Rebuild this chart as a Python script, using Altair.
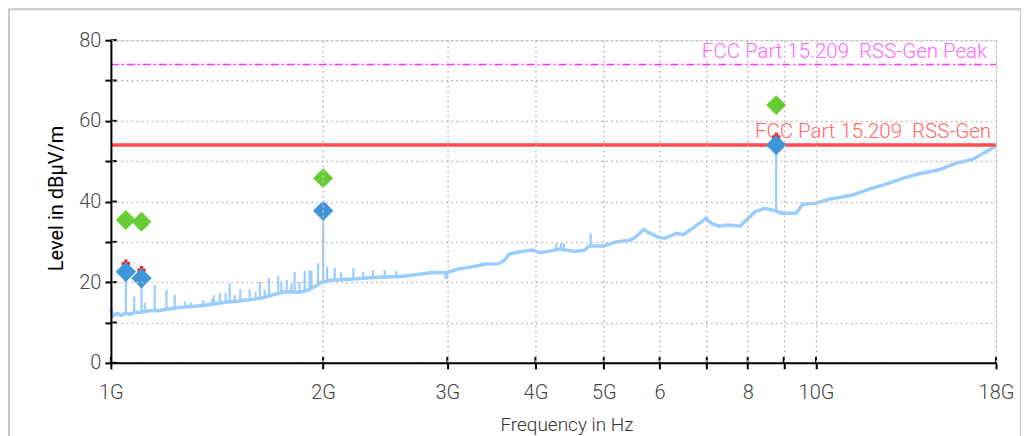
import altair as alt
import pandas as pd

# ---- measured trace (frequency in GHz, level in dBµV/m) ----
trace_freq = [1.0, 1.006, 1.02, 1.035, 1.05, 1.065, 1.08, 1.1, 1.13, 1.17, 1.2, 1.25, 1.3, 1.35,
              1.4, 1.45, 1.5, 1.55, 1.6, 1.65, 1.7, 1.75, 1.8, 1.85, 1.9, 1.95, 1.99, 2.05, 2.2,
              2.4, 2.6, 2.86, 2.985, 2.99, 2.995, 3.1, 3.25, 3.4, 3.55, 3.62, 3.67, 3.79, 3.96,
              4.06, 4.19, 4.32, 4.56, 4.7, 4.77, 5.0, 5.21, 5.44, 5.53, 5.7, 5.79, 5.98, 6.1,
              6.34, 6.48, 6.69, 6.98, 7.1, 7.29, 7.5, 7.8, 8.03, 8.2, 8.47, 8.7, 8.82, 8.95,
              9.37, 9.57, 10.0, 10.45, 10.8, 11.26, 12.0, 12.5, 13.4, 14.1, 14.9, 15.8, 16.7,
              17.4, 17.9, 18.0]
trace_level = [13.5, 11.6, 12.3, 11.8, 12.4, 12.0, 12.6, 12.5, 12.9, 13.0, 13.3, 13.7, 14.0, 14.2,
               14.6, 15.0, 15.2, 15.5, 15.8, 16.2, 16.9, 17.5, 17.6, 17.5, 18.0, 19.0, 20.0, 20.5, 20.8,
               21.2, 21.5, 22.4, 22.4, 20.8, 22.4, 23.2, 23.8, 24.5, 24.6, 25.5, 27.0, 27.5, 28.0,
               27.3, 27.7, 28.2, 27.6, 28.0, 29.0, 29.0, 30.0, 30.4, 31.0, 33.1, 32.3, 31.1, 30.9,
               32.1, 31.8, 33.4, 35.8, 34.6, 33.9, 34.2, 33.9, 36.0, 37.5, 38.3, 37.8, 37.5, 37.1,
               37.1, 39.3, 39.6, 40.6, 41.0, 41.6, 43.3, 44.2, 46.0, 47.0, 47.8, 49.5, 50.5,
               52.3, 53.5, 53.8]

# ---- narrow spikes in the trace ----
spike_freq = [1.002, 1.05, 1.079, 1.105, 1.117, 1.154, 1.199, 1.232, 1.273, 1.298, 1.351, 1.392,
              1.399, 1.427, 1.454, 1.474, 1.498, 1.526, 1.573, 1.604, 1.626, 1.652, 1.676, 1.727,
              1.745, 1.776, 1.803, 1.822, 1.851, 1.883, 1.914, 1.925, 1.967, 2.0, 2.026, 2.077,
              2.12, 2.207, 2.279, 2.353, 2.445, 2.54, 4.28, 4.35, 4.39, 4.79, 8.78]
spike_top = [18.6, 22.6, 16.4, 21.0, 14.9, 19.3, 18.1, 16.8, 15.2, 15.0, 15.5, 16.0, 16.8, 17.3,
             17.3, 19.7, 16.8, 18.2, 18.2, 17.6, 20.1, 18.2, 21.0, 21.5, 20.1, 20.6, 19.7, 22.6,
             20.1, 22.8, 23.0, 22.8, 24.7, 37.7, 23.9, 23.5, 22.4, 23.5, 22.6, 23.0, 23.0, 22.8,
             29.6, 29.6, 29.6, 32.1, 54.0]
spike_base = [12, 12.2, 12.5, 12.6, 12.8, 13, 13.3, 13.5, 13.8, 13.9, 14.2, 14.6, 14.7, 14.9, 15,
              15.1, 15.2, 15.3, 15.6, 15.8, 16, 16.3, 16.7, 17.3, 17.5, 17.6, 17.6, 17.6, 17.5,
              17.7, 18, 18.2, 19.3, 20, 20.5, 20.6, 20.7, 20.8, 21, 21.1, 21.2, 21.4, 28, 28.1,
              28.1, 29.1, 37.6]

# ---- final measurement markers ----
marker_freq = [1.05, 1.105, 2.0, 8.78]
peak_level = [35.4, 35.0, 45.8, 63.9]
avg_level = [22.6, 21.0, 37.7, 54.0]
cross_freq = [1.05, 1.105, 8.78]
cross_level = [24.6, 23.0, 56.0]

# ---- limit lines ----
limit_levels = [74, 54]
limit_names = ["FCC Part 15.209\u00a0\u00a0RSS-Gen Peak", "FCC Part 15.209\u00a0\u00a0RSS-Gen"]
limit_start = [1, 1]
limit_end = [18, 18]

# ---- axes ----
x_tick_values = [1, 2, 3, 4, 5, 6, 7, 8, 9, 10, 18]
x_tick_labels = ["1G", "2G", "3G", "4G", "5G", "6", "", "8", "", "10G", "18G"]
y_tick_values = [0, 10, 20, 30, 40, 50, 60, 70, 80]
y_title = ["Level in dBµV/m"]

W, H = 886, 323
FONT = "Roboto"
GRID = "#c2c2c2"

x_label_expr = "".join(f"datum.value=={v}?'{t}':" for v, t in zip(x_tick_values, x_tick_labels)) + "''"

xscale = alt.Scale(type="log", domain=[1, 18], nice=False)
yscale = alt.Scale(domain=[0, 80], nice=False)

trace_df = pd.DataFrame({"f": trace_freq, "v": trace_level})
spike_df = pd.DataFrame({"f": spike_freq, "v": spike_top, "v2": spike_base})
green_df = pd.DataFrame({"f": marker_freq, "v": peak_level})
blue_df = pd.DataFrame({"f": marker_freq, "v": avg_level})
cross_df = pd.DataFrame({"f": cross_freq, "v": cross_level})
xt_df = pd.DataFrame({"f": x_tick_values})
yt_df = pd.DataFrame({"v": y_tick_values})
lim_df = pd.DataFrame({"f": limit_start, "f2": limit_end, "v": limit_levels})
limtxt_df = pd.DataFrame({"f": limit_end, "v": limit_levels, "name": limit_names})
ytitle_df = pd.DataFrame({"t": y_title})

x_axis = alt.Axis(values=x_tick_values, labelExpr=x_label_expr, grid=True, gridDash=[2, 3],
                  gridColor=GRID, gridWidth=1.5, domainColor="black", domainWidth=2,
                  tickColor="black", tickWidth=2, tickSize=6, labelFont=FONT, labelFontSize=20,
                  labelFontWeight=300, labelColor="#444444", labelPadding=14, labelFlush=False,
                  labelOverlap=False, title="Frequency in Hz", titleFont=FONT, titleFontSize=19,
                  titleFontWeight=300, titleColor="#333333", titleX=456, titleY=62,
                  titleBaseline="middle", titleAlign="center", zindex=1)
y_axis = alt.Axis(values=y_tick_values, labelExpr="datum.value % 20 == 0 ? datum.label : ''",
                  grid=True, gridDash=[2, 3], gridColor=GRID, gridWidth=1.5,
                  domainColor="black", domainWidth=2, tickColor="black", tickWidth=2, tickSize=6,
                  labelFont=FONT, labelFontSize=20, labelFontWeight=300, labelColor="#444444",
                  labelPadding=4, labelFlush=False, labelOverlap=False, title=None, zindex=1)

X = alt.X("f:Q", scale=xscale, axis=x_axis)
Y = alt.Y("v:Q", scale=yscale, axis=y_axis)

trace = alt.Chart(trace_df).mark_line(color="#99ccff", strokeWidth=3.5)
spikes = alt.Chart(spike_df).mark_rule(color="#99ccff", strokeWidth=2.2).encode(y2="v2:Q")
peak_line = alt.Chart(lim_df.iloc[[0]]).mark_rule(
    color="#ff33ff", strokeWidth=1.5, strokeDash=[8, 3, 2, 3]).encode(x2="f2:Q")
avg_line = alt.Chart(lim_df.iloc[[1]]).mark_rule(color="#ff4d4d", strokeWidth=3.5).encode(x2="f2:Q")
peak_text = alt.Chart(limtxt_df.iloc[[0]]).mark_text(
    align="right", baseline="bottom", dx=-9, dy=-2, font=FONT, fontSize=20.5, fontWeight=300,
    color="#ff66ff").encode(text="name:N")
avg_text = alt.Chart(limtxt_df.iloc[[1]]).mark_text(
    align="right", baseline="bottom", dx=-5, dy=-3, font=FONT, fontSize=20.5, fontWeight=300,
    color="#ff6666").encode(text="name:N")

x_inner = alt.Chart(xt_df).mark_rule(color="black", strokeWidth=2).encode(
    y=alt.value(H), y2=alt.value(H - 6))
y_inner = alt.Chart(yt_df).mark_rule(color="black", strokeWidth=2).encode(
    x=alt.value(0), x2=alt.value(6))

crosses = alt.Chart(cross_df).mark_point(shape="cross", filled=True, color="#ff2020", size=70,
                                         opacity=1)
blue = alt.Chart(blue_df).mark_point(shape="diamond", filled=True, color="#3d96dc", size=420,
                                     opacity=1)
green = alt.Chart(green_df).mark_point(shape="diamond", filled=True, color="#66cc33", size=400,
                                       opacity=1)

ytitle = alt.Chart(ytitle_df).mark_text(
    angle=270, align="center", baseline="middle", font=FONT, fontSize=20, color="black").encode(
    text="t:N", x=alt.value(-54), y=alt.value(158.5))

border = alt.Chart(pd.DataFrame({"a": [0]})).mark_rect(
    fill=None, stroke="#c8c8c8", strokeWidth=2).encode(
    x=alt.value(-102), x2=alt.value(W + 25), y=alt.value(-31), y2=alt.value(H + 90))

chart = alt.layer(
    trace, spikes, peak_line, avg_line, peak_text, avg_text, x_inner, y_inner,
    crosses, blue, green, ytitle, border
).encode(x=X, y=Y).properties(
    width=W, height=H,
    padding={"left": 103, "top": 32, "right": 25, "bottom": 73},
    autosize=alt.AutoSizeParams(type="none"),
).configure_view(stroke=None).configure(background="white")

chart.save("out.html", embed_options={"renderer": "svg", "actions": False})
